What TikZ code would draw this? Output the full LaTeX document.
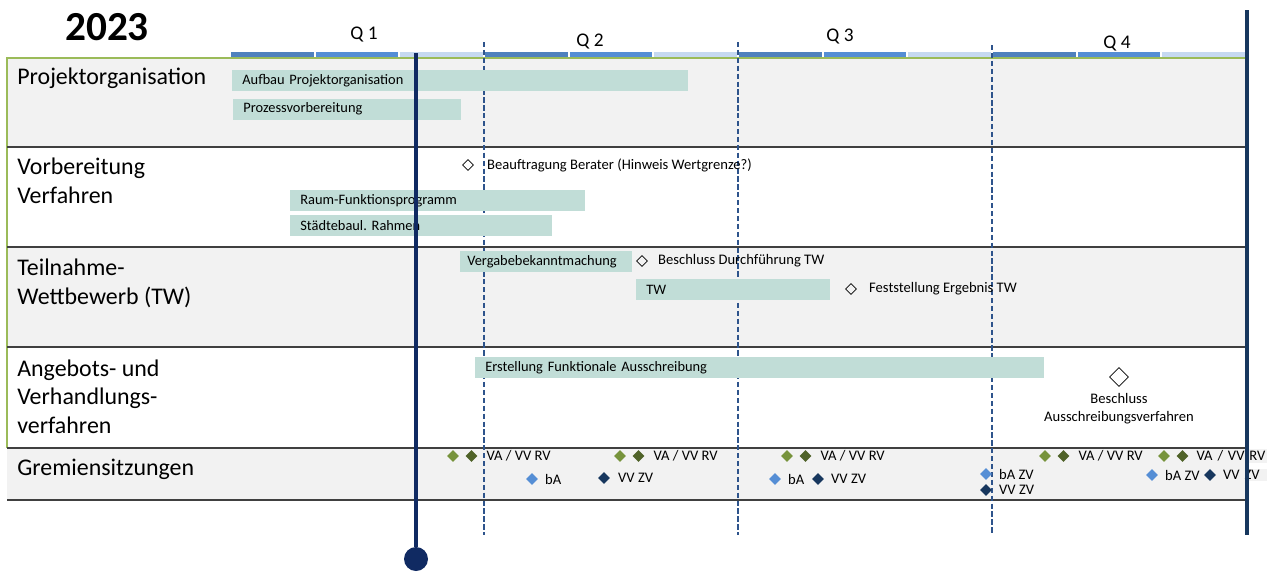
\documentclass[tikz,border=0pt]{standalone}
\usepackage{fontspec}
\setmainfont{Carlito}
\usetikzlibrary{positioning, shapes.geometric}
\definecolor{rowgray}{RGB}{242,242,242}
\definecolor{barteal}{RGB}{193,221,215}
\definecolor{todaynavy}{RGB}{16,42,98}
\definecolor{endnavy}{RGB}{23,55,94}
\definecolor{monthA}{RGB}{79,129,189}
\definecolor{monthB}{RGB}{85,142,213}
\definecolor{monthC}{RGB}{198,217,241}
\definecolor{olivelight}{RGB}{119,147,60}
\definecolor{olivedark}{RGB}{79,98,40}
\definecolor{bablue}{RGB}{85,142,213}
\definecolor{zvnavy}{RGB}{23,55,94}
\definecolor{framegreen}{RGB}{155,187,89}
\definecolor{quarterblue}{RGB}{46,84,140}
\definecolor{rowline}{RGB}{64,64,64}
\frenchspacing

\tikzset{
  rowlabel/.style={anchor=base west, inner sep=0pt, align=left,
    font=\fontsize{13.6}{16}\selectfont},
  qlabel/.style={inner sep=0pt, font=\fontsize{11}{12}\selectfont},
  taskbar/.style={fill=barteal, anchor=west, minimum height=0.42cm,
    inner xsep=0.2cm, inner ysep=0pt, align=left,
    font=\fontsize{8.2}{9}\selectfont},
  milestone/.style={draw, diamond, inner sep=0pt, minimum size=0.22cm, thin},
  mstext/.style={inner sep=0pt, font=\fontsize{8.3}{9}\selectfont},
  meeting/.style={diamond, inner sep=0pt, minimum size=0.24cm},
  mtext/.style={inner sep=1pt, anchor=west, align=left, font=\fontsize{8.3}{9.5}\selectfont},
  quarter/.style={quarterblue, dashed, dash pattern=on 3pt off 1.5pt, line width=0.6pt},
  sep/.style={rowline, line width=1.1pt}
}

\begin{document}
\begin{tikzpicture}[x=0.02cm, y=-0.02cm]
  \useasboundingbox (0,0) rectangle (1268,572);

  % rows
  \fill[rowgray] (7,58) rectangle (1248,147);
  \fill[rowgray] (7,247) rectangle (1248,347);
  \fill[rowgray] (7,448) rectangle (1248,500);
  \draw[framegreen, line width=0.8pt] (7,448) -- (7,58) -- (1248,58) -- (1248,500);
  \foreach \y in {147,247,347,448,500}
    \draw[sep] (7,\y) -- (1248,\y);

  % timeline
  \node[font=\bfseries\fontsize{23.5}{28}\selectfont, inner sep=0pt] (year) at (107,27) {2023};
  \foreach \q in {0,1,2,3}
    \foreach \m/\c in {0/monthA,1/monthB,2/monthC}
      \fill[\c] ({230+(3*\q+\m)*84.67+1},52) rectangle ++(82.67,5);
  \node[qlabel] (q1) at (364,35) {Q 1};
  \node[qlabel] (q2) at (590,42) {Q 2};
  \node[qlabel] (q3) at (840,37) {Q 3};
  \node[qlabel] (q4) at (1117,44) {Q 4};
  \coordinate (qa) at (484,42);
  \coordinate (qb) at (738,42);
  \coordinate (qc) at (992,45);
  \foreach \c in {qa,qb,qc}
    \draw[quarter] (\c) -- (\c |- 0,535);

  % row labels
  \node[rowlabel] (r1) at (17,84) {Projektorganisation};
  \node[rowlabel] (r2) at (17,203) {Vorbereitung\\Verfahren};
  \node[rowlabel] (r3) at (17,304) {Teilnahme-\\Wettbewerb (TW)};
  \node[rowlabel] (r4) at (17,433) {Angebots- und\\Verhandlungs-\\verfahren};
  \node[rowlabel] (r5) at (17,475) {Gremiensitzungen};

  % Projektorganisation
  \node[taskbar, minimum width=9.12cm, text width=8.72cm] (aufbau) at (232,80.5) {Aufbau Projektorganisation};
  \node[taskbar, minimum width=4.56cm, text width=4.16cm] (prozess) at (233,109) {Prozessvorbereitung};

  % Vorbereitung Verfahren
  \node[milestone] (berater) at (468,165) {};
  \node[mstext, right=0.26cm of berater] {Beauftragung Berater (Hinweis Wertgrenze?)};
  \node[taskbar, minimum width=5.9cm, text width=5.5cm] (raum) at (290,200.5) {Raum-Funktionsprogramm};
  \node[taskbar, minimum width=5.24cm, text width=4.84cm] (rahmen) at (290,225.5) {Städtebaul. Rahmen};

  % Teilnahme-Wettbewerb
  \node[taskbar, minimum width=3.44cm, text width=3.16cm, inner xsep=0.14cm] (vergabe) at (460,261.5) {Vergabebekanntmachung};
  \node[milestone] (durchf) at (642,261) {};
  \node[mstext, right=0.2cm of durchf] {Beschluss Durchführung TW};
  \node[taskbar, minimum width=3.88cm, text width=3.48cm] (tw) at (636,289.5) {TW};
  \node[milestone] (ergebnis) at (851,289) {};
  \node[mstext, right=0.24cm of ergebnis] {Feststellung Ergebnis TW};

  % Angebots- und Verhandlungsverfahren
  \node[taskbar, minimum width=11.38cm, text width=10.98cm] (ausschr) at (475,367.5) {Erstellung Funktionale Ausschreibung};
  \node[milestone, minimum size=0.38cm] (beschl) at (1119,377) {};
  \node[mstext, align=center, below=0.12cm of beschl, font=\fontsize{8.3}{10.5}\selectfont] {Beschluss\\Ausschreibungsverfahren};

  % Gremiensitzungen
  \foreach \x [count=\i] in {453,620,787,1045,1164} {
    \node[meeting, fill=olivelight] (gl\i) at (\x,456) {};
    \node[meeting, fill=olivedark] (gd\i) at (\x+18.5,456) {};
  }
  \node[mtext] at ([xshift=0.26cm]gd1.center) {VA / VV RV};
  \node[mtext] at ([xshift=0.26cm]gd2.center) {VA / VV RV};
  \node[mtext] at ([xshift=0.26cm]gd3.center) {VA / VV RV};
  \node[mtext] at ([xshift=0.26cm]gd4.center) {VA / VV RV};
  \node[mtext, fill=rowgray, text width=1.38cm] at ([xshift=0.24cm]gd5.center) {VA / VV RV};

  \node[meeting, fill=bablue] (ba1) at (532,479) {};
  \node[mtext] at ([xshift=0.22cm]ba1.center) {bA};
  \node[meeting, fill=zvnavy] (zv1) at (604,478) {};
  \node[mtext] at ([xshift=0.24cm]zv1.center) {VV ZV};
  \node[meeting, fill=bablue] (ba2) at (775,479) {};
  \node[mtext] at ([xshift=0.22cm]ba2.center) {bA};
  \node[meeting, fill=zvnavy] (zv2) at (818,479) {};
  \node[mtext] at ([xshift=0.22cm]zv2.center) {VV ZV};
  \node[meeting, fill=bablue] (ba3) at (986,474) {};
  \node[mtext] at ([xshift=0.22cm]ba3.center) {bA ZV};
  \node[meeting, fill=zvnavy] (zv3) at (986,490) {};
  \node[mtext] at ([xshift=0.22cm]zv3.center) {VV ZV};
  \node[meeting, fill=bablue] (ba4) at (1152,475) {};
  \node[mtext] at ([xshift=0.22cm]ba4.center) {bA ZV};
  \node[meeting, fill=zvnavy] (zv4) at (1210,475) {};
  \node[mtext, fill=rowgray, text width=0.85cm] at ([xshift=0.22cm]zv4.center) {VV ZV};

  % today and year end
  \node[circle, fill=todaynavy, minimum size=0.48cm, inner sep=0pt] (today) at (416,559) {};
  \coordinate (todaytop) at (416,53);
  \draw[todaynavy, line width=2pt] (todaytop) -- (today);
  \coordinate (endtop) at (1247,10);
  \coordinate (endbot) at (1247,535);
  \draw[endnavy, line width=2pt] (endtop) -- (endbot);
\end{tikzpicture}
\end{document}
